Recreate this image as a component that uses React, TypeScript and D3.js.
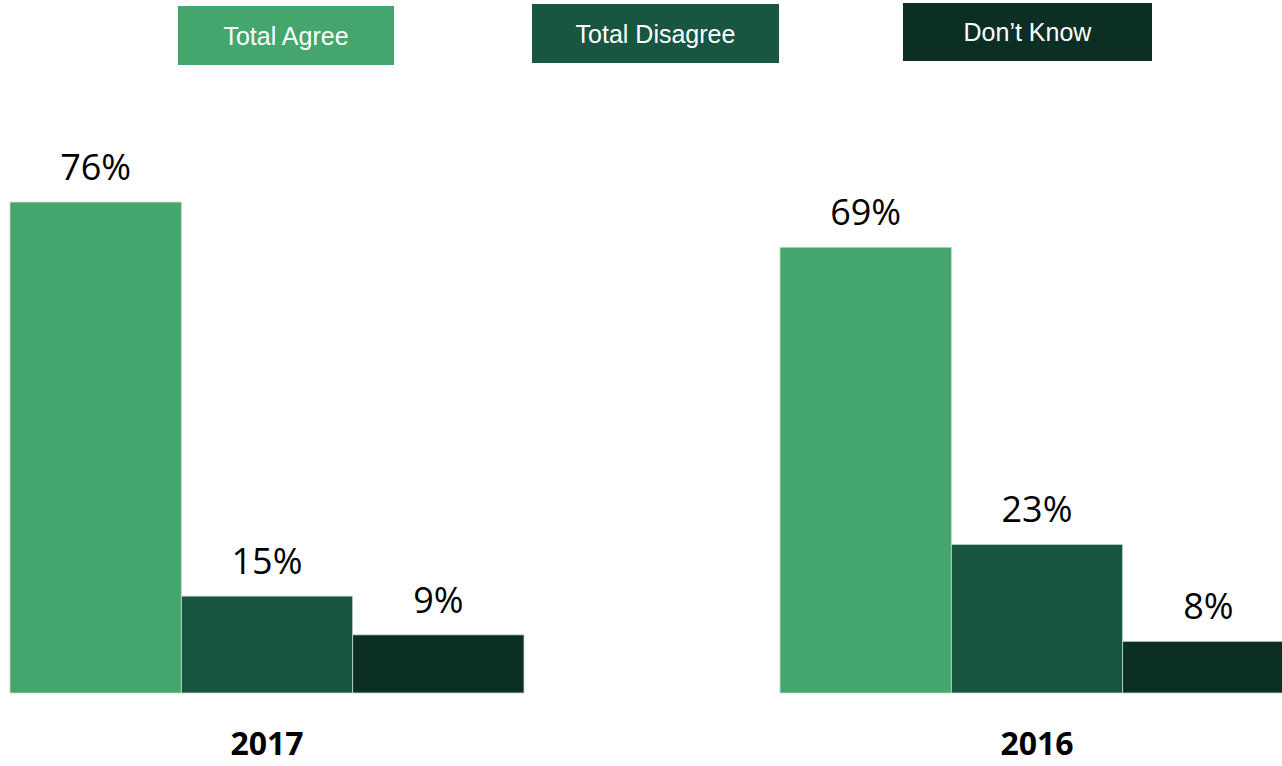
import React from "react";
import * as d3 from "d3";

const years = ["2017", "2016"];
const seriesNames = ["Total Agree", "Total Disagree", "Don’t Know"];
const seriesColors = ["#44A66C", "#185642", "#0C2F23"];
const values2017 = [76, 15, 9];
const values2016 = [69, 23, 8];
const valuesByYear = [values2017, values2016];

const legendBoxes = [
  { x: 178, y: 6, w: 216, h: 59 },
  { x: 532, y: 4, w: 247, h: 59 },
  { x: 903, y: 3, w: 249, h: 58 },
];

export default function App() {
  const W = 1282;
  const H = 766;
  const baseline = 693;
  const x0 = d3.scaleBand<string>().domain(years).range([10, 1294]).paddingInner(256 / 770).paddingOuter(0);
  const x1 = d3.scaleBand<string>().domain(seriesNames).range([0, x0.bandwidth()]).padding(0);
  const y = d3.scaleLinear().domain([0, 100]).range([baseline, baseline - 646]);

  return (
    <svg width={W} height={H} style={{ position: "fixed", left: 0, top: 0 }}>
      <rect width={W} height={H} fill="#ffffff" />
      {legendBoxes.map((b, i) => (
        <g key={i}>
          <rect x={b.x} y={b.y} width={b.w} height={b.h} fill={seriesColors[i]} />
          <text
            x={b.x + b.w / 2}
            y={b.y + b.h / 2 + 9}
            textAnchor="middle"
            fill="#ffffff"
            fontFamily="'Liberation Sans', Arial, sans-serif"
            fontSize={25}
          >
            {seriesNames[i]}
          </text>
        </g>
      ))}
      {years.map((yr, gi) => (
        <g key={yr} transform={`translate(${x0(yr)},0)`}>
          {valuesByYear[gi].map((v, si) => {
            const bx = x1(seriesNames[si]) as number;
            return (
              <g key={si}>
                <rect
                  x={bx}
                  y={y(v)}
                  width={x1.bandwidth()}
                  height={baseline - y(v)}
                  fill={seriesColors[si]}
                  stroke="#c8d8cf"
                  strokeWidth={0.8}
                />
                <text
                  x={bx + x1.bandwidth() / 2}
                  y={y(v) - 22}
                  textAnchor="middle"
                  fill="#000000"
                  fontFamily="'Open Sans', sans-serif"
                  fontSize={36}
                >
                  {v}%
                </text>
              </g>
            );
          })}
          <text
            x={x0.bandwidth() / 2}
            y={755}
            textAnchor="middle"
            fill="#000000"
            fontFamily="'Open Sans', sans-serif"
            fontWeight="bold"
            fontSize={32}
          >
            {yr}
          </text>
        </g>
      ))}
    </svg>
  );
}
